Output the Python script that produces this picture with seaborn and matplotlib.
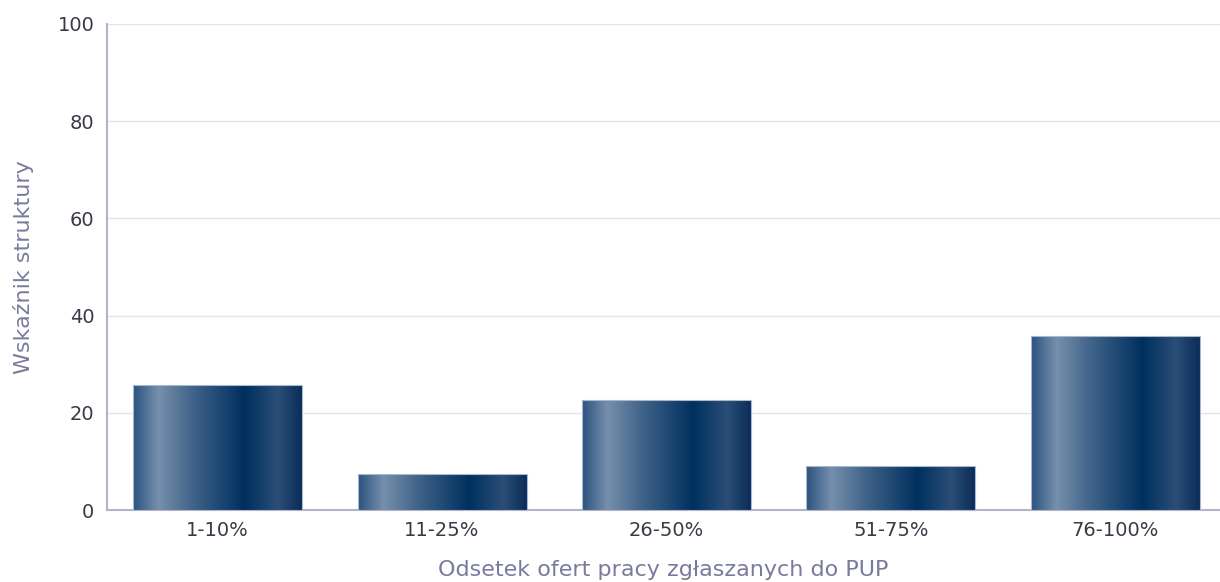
import numpy as np
import pandas as pd
import matplotlib
matplotlib.use("Agg")
import matplotlib.pyplot as plt
import seaborn as sns
from matplotlib.colors import LinearSegmentedColormap

categories = ["1-10%", "11-25%", "26-50%", "51-75%", "76-100%"]
values = [25.7, 7.4, 22.7, 9.0, 35.8]

df = pd.DataFrame({"kat": categories, "wsk": values})

sns.set_style("white")
plt.rcParams["font.family"] = ["DejaVu Sans"]

fig = plt.figure(figsize=(12.2, 5.82), dpi=100)
ax = fig.add_axes([0.0877, 0.1237, 0.9123, 0.8351])

sns.barplot(data=df, x="kat", y="wsk", color="#0b3260", width=0.753,
            saturation=1, ax=ax, zorder=2)

# poziomy gradient na slupkach
grad = LinearSegmentedColormap.from_list("bar", [
    (0.0, "#2c5280"), (0.15, "#7690ac"), (0.35, "#41648a"),
    (0.66, "#00305f"), (0.86, "#2b4e76"), (1.0, "#0a2d5a")])
g = np.linspace(0, 1, 256).reshape(1, -1)
for p in ax.patches:
    x0, y0 = p.get_x(), p.get_y()
    w, h = p.get_width(), p.get_height()
    im = ax.imshow(g, cmap=grad, aspect="auto", extent=[x0, x0 + w, y0, y0 + h],
                   zorder=3, interpolation="bilinear")
    im.set_clip_path(p)
    ax.add_patch(plt.Rectangle((x0, y0), w, h, fill=False, edgecolor="#a9b8cc",
                               linewidth=0.8, zorder=4))

ax.set_xlim(-0.493, 4.467)
ax.set_ylim(0, 100)
ax.set_yticks([0, 20, 40, 60, 80, 100])
ax.yaxis.grid(True, color="#e4e4ec", linewidth=1, zorder=0)
ax.set_axisbelow(True)

for s in ["top", "right"]:
    ax.spines[s].set_visible(False)
for s in ["left", "bottom"]:
    ax.spines[s].set_color("#b3b3cc")
    ax.spines[s].set_linewidth(1.5)

ax.tick_params(axis="both", length=0, labelsize=14, labelcolor="#3a3a46")
ax.tick_params(axis="y", pad=9)
ax.tick_params(axis="x", pad=8)
ax.set_xlabel("Odsetek ofert pracy zgłaszanych do PUP", fontsize=16,
              color="#7a7a9e", labelpad=14)
ax.set_ylabel("Wskaźnik struktury", fontsize=16, color="#7a7a9e", labelpad=17)

fig.savefig("out.png", dpi=100)
